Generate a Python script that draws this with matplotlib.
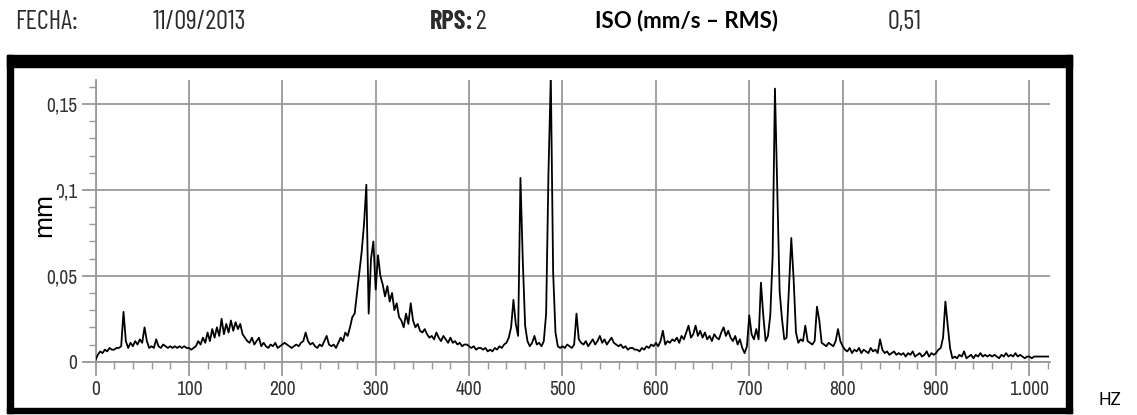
import matplotlib
matplotlib.use("Agg")
import matplotlib.pyplot as plt
import numpy as np
from matplotlib.patches import Rectangle
from matplotlib.ticker import MultipleLocator, FuncFormatter

# Header of the report
fecha = "11/09/2013"
rps = "2"
iso_label = "ISO (mm/s \u2013 RMS)"
iso_value = "0,51"

# Spectrum, one value every 2.5 Hz, in micrometres
freq_step = 2.5
amp_um = [
    1, 4, 6, 5, 7, 6, 8, 7,            # 0
    7, 8, 8, 9, 29, 12, 8, 11,         # 20
    9, 12, 10, 13, 11, 20, 12, 8,      # 40
    9, 8, 13, 9, 8, 10, 9, 8,          # 60
    9, 8, 9, 8, 9, 8, 9, 8,            # 80
    8, 7, 8, 9, 12, 10, 14, 11,        # 100
    17, 12, 19, 14, 20, 15, 25, 16,    # 120
    22, 17, 24, 18, 23, 19, 22, 16,    # 140
    14, 12, 11, 14, 10, 12, 14, 9,     # 160
    11, 9, 8, 10, 9, 11, 8, 9,         # 180
    10, 11, 10, 9, 8, 9, 10, 9,        # 200
    11, 12, 17, 12, 10, 11, 9, 8,      # 220
    10, 9, 12, 15, 10, 9, 10, 8,       # 240
    11, 14, 12, 17, 15, 20, 26, 28,    # 260
    40, 52, 64, 80, 103, 28, 60, 70,   # 280
    42, 62, 50, 45, 38, 44, 35, 40,    # 300
    30, 34, 26, 24, 20, 28, 22, 34,    # 320
    24, 20, 22, 18, 17, 19, 16, 14,    # 340
    15, 13, 17, 14, 12, 15, 13, 11,    # 360
    14, 11, 12, 10, 11, 9, 10, 10,     # 380
    9, 8, 9, 7, 8, 8, 7, 8,            # 400
    6, 7, 6, 8, 7, 9, 8, 10,           # 420
    11, 14, 20, 36, 22, 15, 107, 59,   # 440
    21, 12, 9, 11, 15, 10, 11, 9,      # 460
    12, 28, 110, 166, 52, 17, 9, 8,    # 480
    9, 8, 10, 9, 8, 10, 28, 13,        # 500
    11, 10, 12, 9, 11, 13, 10, 12,     # 520
    15, 11, 13, 10, 12, 14, 11, 10,    # 540
    9, 10, 8, 9, 7, 8, 8, 7,           # 560
    7, 6, 8, 7, 9, 8, 10, 9,           # 580
    11, 9, 12, 18, 10, 12, 11, 13,     # 600
    12, 14, 11, 15, 13, 17, 21, 14,    # 620
    16, 21, 15, 18, 14, 17, 13, 15,    # 640
    12, 16, 14, 13, 17, 20, 15, 18,    # 660
    14, 12, 15, 10, 13, 8, 5, 9,       # 680
    27, 16, 13, 19, 13, 46, 27, 12,    # 700
    15, 27, 61, 159, 100, 41, 25, 13,  # 720
    14, 43, 72, 48, 17, 11, 13, 12,    # 740
    21, 12, 11, 10, 12, 32, 24, 11,    # 760
    10, 9, 11, 10, 9, 12, 19, 12,      # 780
    9, 7, 6, 8, 5, 7, 6, 8,            # 800
    5, 7, 6, 5, 8, 6, 7, 5,            # 820
    13, 7, 5, 6, 4, 5, 6, 4,           # 840
    5, 4, 5, 3, 5, 4, 6, 3,            # 860
    4, 5, 3, 4, 6, 3, 5, 4,            # 880
    5, 7, 8, 14, 35, 21, 8, 2,         # 900
    3, 2, 4, 3, 6, 2, 3, 4,            # 920
    2, 4, 3, 5, 3, 4, 3, 4,            # 940
    3, 4, 3, 2, 4, 3, 5, 3,            # 960
    4, 3, 5, 3, 4, 3, 2, 3,            # 980
    3, 2, 3, 3, 3, 3, 3, 3,            # 1000
    3,                                 # 1020
]

freqs = np.arange(len(amp_um)) * freq_step
amp_mm = np.array(amp_um) / 1000.0

W, H = 1137, 415
fig = plt.figure(figsize=(W / 100, H / 100), dpi=100)
narrow = ["Archivo Narrow", "DejaVu Sans"]
condensed = ["Barlow Condensed", "Archivo Narrow", "DejaVu Sans"]

# thick black frame around the chart (pixel boxes: left, top, right, bottom)
for x0, y0, x1, y1 in [(7, 55, 1072, 67), (7, 55, 13, 413),
                       (1066, 55, 1072, 413), (7, 408, 1072, 413)]:
    fig.patches.append(Rectangle((x0 / W, 1 - y1 / H), (x1 - x0) / W, (y1 - y0) / H,
                                 transform=fig.transFigure, color="black", zorder=0))

ax = fig.add_axes([95.5 / W, (H - 361.7) / H, (1050 - 95.5) / W, (361.7 - 80) / H])
ax.plot(freqs, amp_mm, color="black", lw=1.3, zorder=3)

ax.set_xlim(0, 1022)
ax.set_ylim(0, 0.164)
ax.xaxis.set_major_locator(MultipleLocator(100))
ax.xaxis.set_minor_locator(MultipleLocator(20))
ax.yaxis.set_major_locator(MultipleLocator(0.05))
ax.yaxis.set_minor_locator(MultipleLocator(0.01))
ax.xaxis.set_major_formatter(FuncFormatter(lambda v, p: f"{int(round(v)):,}".replace(",", ".")))
ax.yaxis.set_major_formatter(FuncFormatter(
    lambda v, p: f"{v:.2f}".rstrip("0").rstrip(".").replace(".", ",")))

ax.grid(which="major", color="#999999", lw=1.3, zorder=1)
ax.tick_params(which="major", length=10, width=1.3, color="#999999",
               labelsize=14, labelcolor="#333333", pad=3)
ax.tick_params(which="minor", length=5, width=1, color="#999999")
for lbl in ax.get_xticklabels() + ax.get_yticklabels():
    lbl.set_family(narrow)
for side in ["top", "right"]:
    ax.spines[side].set_visible(False)
for side in ["left", "bottom"]:
    ax.spines[side].set_color("#999999")
    ax.spines[side].set_linewidth(1.3)

# y label with white box hiding part of the 0,1 label, as in the original
fig.text(44 / W, 1 - 215 / H, "mm", rotation=90, fontsize=19, family="Liberation Sans",
         ha="center", va="center",
         bbox=dict(facecolor="white", edgecolor="none", pad=2))

# header line
hdr = dict(fontsize=19, family=condensed, color="#2b2b2b", va="center")
fig.text(15 / W, 1 - 22 / H, "FECHA:", **hdr)
fig.text(153 / W, 1 - 22 / H, fecha, **hdr)
fig.text(430 / W, 1 - 22 / H, "RPS:", weight="bold", **hdr)
fig.text(476 / W, 1 - 22 / H, rps, **hdr)
fig.text(595 / W, 1 - 21 / H, iso_label, fontsize=16, family="Lato", weight="bold",
         color="black", va="center")
fig.text(888 / W, 1 - 22 / H, iso_value, **hdr)
fig.text(1098 / W, 1 - 400 / H, "HZ", fontsize=12, family="Lato", color="black", va="center")

fig.savefig("out.png", dpi=100, facecolor="white")
